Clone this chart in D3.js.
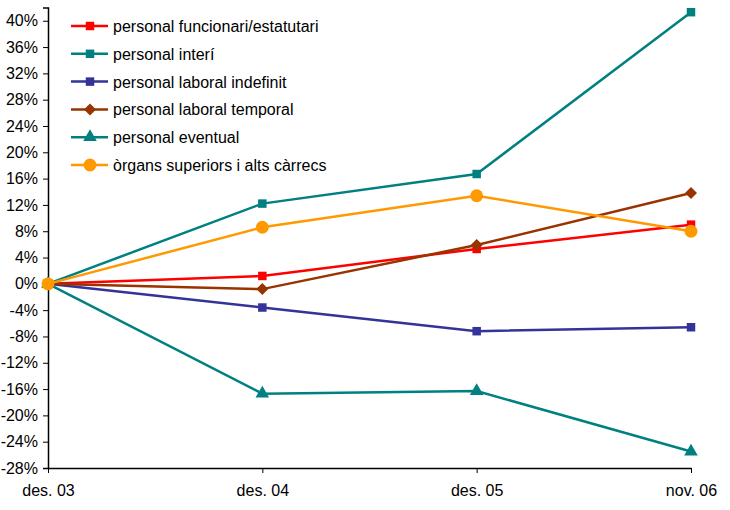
<!DOCTYPE html>
<html>
<head>
<meta charset="utf-8">
<script src="https://cdn.jsdelivr.net/npm/d3@7"></script>
<style>
  body { margin: 0; background: #fff; }
  text { font-family: "Liberation Sans", Arial, sans-serif; }
</style>
</head>
<body>
<svg id="chart" width="730" height="510"></svg>
<script>
// categories (x axis)
const periods = ['des. 03', 'des. 04', 'des. 05', 'nov. 06']

// series values, % change vs des. 03
const funcionari = [0, 1.2, 5.3, 9.0]
const interi = [0, 12.2, 16.7, 41.3]
const laboralIndefinit = [0, -3.6, -7.2, -6.6]
const laboralTemporal = [0, -0.8, 5.9, 13.8]
const eventual = [0, -16.7, -16.3, -25.5]
const organs = [0, 8.6, 13.4, 8.0]

const seriesNames = [
  'personal funcionari/estatutari',
  'personal interí',
  'personal laboral indefinit',
  'personal laboral temporal',
  'personal eventual',
  'òrgans superiors i alts càrrecs'
]

const yTicks = d3.range(-28, 41, 4)

const series = [
  { name: seriesNames[0], values: funcionari, color: '#ff0000', shape: 'square' },
  { name: seriesNames[1], values: interi, color: '#008080', shape: 'square' },
  { name: seriesNames[2], values: laboralIndefinit, color: '#333399', shape: 'square' },
  { name: seriesNames[3], values: laboralTemporal, color: '#993300', shape: 'diamond' },
  { name: seriesNames[4], values: eventual, color: '#008080', shape: 'triangle' },
  { name: seriesNames[5], values: organs, color: '#ff9900', shape: 'circle' }
]

const svg = d3.select('#chart')

const xScale = d3.scalePoint()
  .domain(periods)
  .range([48, 691])

const yScale = d3.scaleLinear()
  .domain([-28, 42])
  .range([468, 7.6])

// y axis
const yAxis = d3.axisLeft(yScale)
  .tickValues(yTicks)
  .tickSize(5)
  .tickFormat(d => d + '%')

svg.append('g')
  .attr('transform', 'translate(48,0)')
  .call(yAxis)
  .call(g => g.select('.domain').attr('stroke', '#000').attr('stroke-width', 1.5))
  .call(g => g.selectAll('.tick line').attr('stroke', '#000'))
  .call(g => g.selectAll('.tick text')
    .attr('x', -10)
    .style('font-size', '16px')
    .attr('fill', '#000'))

// x axis
const xAxis = d3.axisBottom(xScale)
  .tickSize(5)
  .tickSizeOuter(0)

svg.append('g')
  .attr('transform', 'translate(0,468)')
  .call(xAxis)
  .call(g => g.select('.domain').attr('stroke', '#000').attr('stroke-width', 1.5))
  .call(g => g.selectAll('.tick line').attr('stroke', '#000'))
  .call(g => g.selectAll('.tick text')
    .attr('y', 17)
    .style('font-size', '16px')
    .attr('fill', '#000'))

const symbolFor = shape => {
  if (shape === 'square' || shape === 'diamond') return d3.symbol(d3.symbolSquare, 72)
  if (shape === 'triangle') return d3.symbol(d3.symbolTriangle, 80)
  return d3.symbol(d3.symbolCircle, 130)
}
const rot = shape => shape === 'diamond' ? ' rotate(45)' : ''

const line = d3.line()
  .x((d, i) => xScale(periods[i]))
  .y(d => yScale(d))

// lines and markers
series.forEach(s => {
  svg.append('path')
    .datum(s.values)
    .attr('fill', 'none')
    .attr('stroke', s.color)
    .attr('stroke-width', 2.5)
    .attr('d', line)

  svg.selectAll(null)
    .data(s.values)
    .enter()
    .append('path')
    .attr('d', symbolFor(s.shape))
    .attr('fill', s.color)
    .attr('transform', (d, i) => `translate(${xScale(periods[i])},${yScale(d)})` + rot(s.shape))
})

// legend
const legend = svg.append('g')
  .attr('transform', 'translate(71,26)')

series.forEach((s, i) => {
  const row = legend.append('g')
    .attr('transform', `translate(0,${i * 27.8})`)
  row.append('line')
    .attr('x1', 0).attr('x2', 37)
    .attr('stroke', s.color)
    .attr('stroke-width', 2.5)
  row.append('path')
    .attr('d', symbolFor(s.shape))
    .attr('fill', s.color)
    .attr('transform', 'translate(19,0)' + rot(s.shape))
  row.append('text')
    .attr('x', 42)
    .attr('y', 6)
    .style('font-size', '16px')
    .attr('fill', '#000')
    .text(s.name)
})
</script>
</body>
</html>
